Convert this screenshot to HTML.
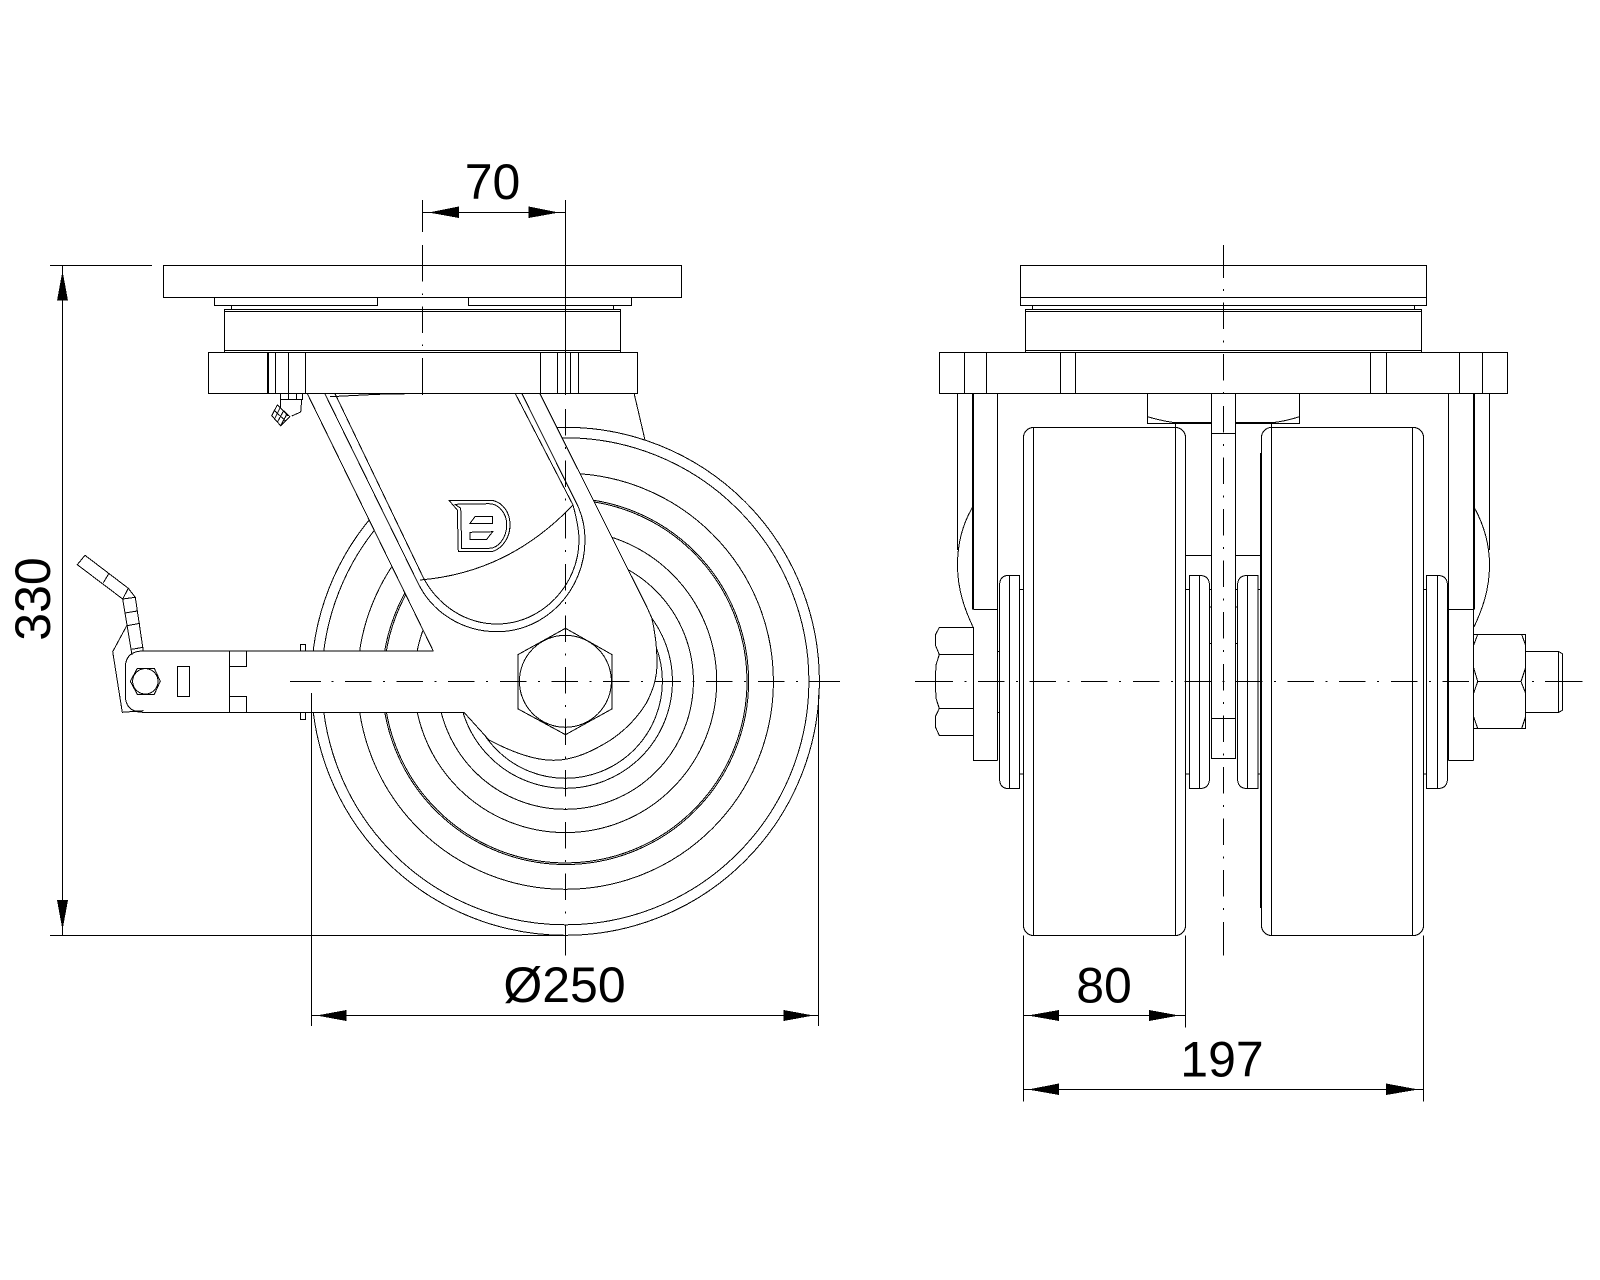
<!DOCTYPE html>
<html><head><meta charset="utf-8"><title>Swivel caster drawing</title>
<style>
html,body{margin:0;padding:0;background:#fff}
svg{display:block;shape-rendering:crispEdges}
text{font-family:"Liberation Sans",sans-serif;font-size:50px;fill:#000;text-anchor:middle}
.l{fill:none;stroke:#000;stroke-width:1}
.t{fill:none;stroke:#000;stroke-width:1}
.b{fill:none;stroke:#000;stroke-width:2}
.w{fill:#fff;stroke:none}
.a{fill:#000;stroke:none}
.c{fill:none;stroke:#000;stroke-width:1;stroke-dasharray:26.5 11.5 2 11.6}
.v{fill:none;stroke:#000;stroke-width:1;stroke-dasharray:26.5 11.5 2 11.6}
</style></head><body>
<svg xmlns="http://www.w3.org/2000/svg" width="1600" height="1280" viewBox="0 0 1600 1280">
<rect width="1600" height="1280" fill="#fff"/>

<!-- LEFT VIEW: wheel -->
<g class="l">
<circle cx="565.4" cy="681.3" r="254"/>
<circle cx="565.4" cy="681.3" r="243.5"/>
<circle cx="565.4" cy="681.3" r="208"/>
<circle cx="565.4" cy="681.3" r="183.2"/>
<circle cx="565.4" cy="681.3" r="181.6"/>
<circle cx="565.4" cy="681.3" r="151.3"/>
<circle cx="565.4" cy="681.3" r="128"/>
<circle cx="565.4" cy="681.3" r="107"/>
<circle cx="565.4" cy="681.3" r="97"/>
<path d="M634 393 L645 440"/>
</g>
<!-- fork fill + outline -->
<path class="w" d="M307 393 L539.6 393 L646.7 606.7 L651.8 618 L656 640 L657 663 L654 685 L646.4 703 L630 725 L610.7 740 L585 755 L553.6 760.3 L525 756 L505 749 L489 740 L464.3 712.7 L120 712.3 L120 651 L433.3 651 Z"/>
<path class="l" d="M307 393 L433.3 651"/>
<path class="l" d="M539.6 393 L646.7 606.7 L651.8 618 C655 632 657 648 657 663 C657 680 652 692 646.4 703 C636 720 624 731 610.7 740 C593 751 574 760.3 553.6 760.3 C532 760.3 508 750 489 740 L464.3 712.7"/>
<!-- fork U-lines -->
<path class="l" d="M324.5 393 L418 583 C432 612 462 631.7 497 631.7 C546 631.7 585 590 585 540 C585 527 582 515 577.7 505.7 L521.6 393"/>
<path class="l" d="M334.7 393 L423 577 C438 606 466 624 497 624 C542 624 579 585 579 540 C579 530 576 516 573 505 L515 393"/>
<path class="l" d="M420 580 C480 575 530 550 573 505"/>
<!-- logo -->
<path class="l" d="M449 500.3 L490 500.3 C498 500.3 510 508 510 525 C510 541 498 551.7 490 551.7 L458.3 551.7 L457.3 510 Z"/>
<path class="l" d="M455 504.3 L489.3 503.7 C498 504 506.7 512 506.7 525 C506.7 538 498 548.3 489.3 548.3 L461.7 548.3 L460.7 508.3 Z"/>
<path class="l" d="M470 523.3 L475 516.7 L492.7 516.7 L492.7 523.3 Z"/>
<path class="l" d="M470 532.3 L492.7 531.7 L486.7 539.3 L470 539.3 Z"/>
<!-- arm -->
<path class="l" d="M433.3 651 L143.3 651 Q125.3 651 125.3 668 L125.3 695 Q125.3 712.3 143.3 712.3 L464.3 712.3"/>
<path class="l" d="M229.3 651 V712.3 M229.3 666.3 H246.7 V651 M229.3 696.3 H246.7 V712.3"/>
<rect class="l" x="177.5" y="666.5" width="12" height="30"/>
<path class="l" d="M130.3 681.3 L137.3 668.3 L154.3 668.3 L160.3 681.3 L154.3 694.3 L137.3 694.3 Z"/>
<circle class="l" cx="145.3" cy="681.3" r="12.7"/>
<rect class="l" x="300.5" y="644.5" width="5" height="6.5"/>
<rect class="l" x="300.5" y="712.5" width="5" height="7"/>
<!-- lever -->
<path class="l" d="M85 555.3 L128.3 588.3 L135.3 597.3 L143.3 651"/>
<path class="l" d="M85 555.3 L77.3 564.7 L122.7 599 L132 655"/>
<path class="l" d="M109 573.3 L103.3 582.7 M122.7 599 L135.3 597.3 M128.3 588.3 L122.7 599 M125 613 L137.3 611 M127 625.7 L140 623.3 M131.7 649.3 L143.3 647.3"/>
<path class="l" d="M126.7 625.7 L112.7 651.7 L122.3 712.3 L143.3 710.7"/>
<!-- swivel head left -->
<g class="l">
<rect x="163.5" y="265.5" width="518" height="32"/>
<rect x="214.5" y="297.5" width="163" height="8"/>
<rect x="468.5" y="297.5" width="163" height="8"/>
<path d="M231.5 305.5 V309.5 M613.5 305.5 V309.5"/>
<rect x="224.5" y="309.5" width="396" height="43"/>
<path d="M224.5 311.5 H620.5 M224.5 350.5 H620.5"/>
<rect x="208.5" y="352.5" width="429" height="41"/>
<path d="M267.5 352.5 V393.5 M268.5 352.5 V393.5 M275.5 352.5 V393.5 M288.5 352.5 V393.5 M305.5 352.5 V393.5 M540.5 352.5 V393.5 M557.5 352.5 V393.5 M570.5 352.5 V393.5 M578.5 352.5 V393.5"/>
<path d="M330 396.7 L377.5 394.3 L407 393.7"/>
<!-- grease nipple -->
<path d="M280.5 393.5 V399.5 H302.5 V393.5 M288.5 393.5 V399.5 M296.5 393.5 V399.5 M280.7 399.5 V408 L288 416 M301.7 399.5 L300.7 412 L291.7 416"/>
<path d="M277.3 405 L290 416.7 L280.7 425.7 L271.7 415.7 Z M274.5 410.5 L285.5 421 M280 408 L274.5 419 M283.5 411 L277.5 422 M287 414 L281 425"/>
</g>
<!-- left centerlines -->
<path class="c" d="M293.4 681.5 H836"/>
<path class="l" d="M290 681.5 H321 M809.5 681.5 H840"/>
<path class="t" d="M422.5 200 V232 M422.5 245 V281.7 M422.5 293.5 V295 M422.5 306.7 V333 M422.5 344.5 V346 M422.5 358 V395"/>
<path class="t" d="M565.5 200 V395"/>
<path class="v" d="M565.5 409 V952"/>
<path class="l" d="M565.5 925 V955.5"/>
<path class="l" d="M565.5 628.3 L611.8 654.5 L611.8 709 L565.5 734.7 L518.2 709 L518.2 654.5 Z"/>
<circle class="l" cx="565.4" cy="681.3" r="46"/>

<!-- dims left -->
<path class="t" d="M422.5 212.5 H565.5"/>
<polygon class="a" points="428.6,212.5 459,206.5 459,218"/>
<polygon class="a" points="559,212.5 528.6,206.5 528.6,218"/>
<text x="492.5" y="199">70</text>
<path class="t" d="M50 265.5 H152 M62.5 265.5 V935.5 M50 935.5 H565"/>
<polygon class="a" points="62.5,270.7 57,300.7 68,300.7"/>
<polygon class="a" points="62.5,930 57,900 68,900"/>
<text transform="translate(50 599) rotate(-90)" x="0" y="0">330</text>
<path class="t" d="M311.5 693 V1026 M818.5 695 V1026 M311.5 1015.5 H818.5"/>
<polygon class="a" points="316.5,1015.5 346.5,1010 346.5,1021"/>
<polygon class="a" points="813.5,1015.5 783.5,1010 783.5,1021"/>
<text x="564.5" y="1002">&#216;250</text>

<!-- RIGHT VIEW -->
<g class="l">
<rect x="1020.5" y="265.5" width="406" height="40"/>
<path d="M1020.5 297.5 H1426.5"/>
<path d="M1032.5 305.5 V309.5 M1414.5 305.5 V309.5"/>
<rect x="1025.5" y="309.5" width="396" height="43"/>
<path d="M1025.5 311.5 H1421.5 M1025.5 350.5 H1421.5"/>
<rect x="939.5" y="352.5" width="568" height="41"/>
<path d="M964.5 352.5 V393.5 M986.5 352.5 V393.5 M1060.5 352.5 V393.5 M1075.5 352.5 V393.5 M1370.5 352.5 V393.5 M1386.5 352.5 V393.5 M1459.5 352.5 V393.5 M1482.5 352.5 V393.5"/>
<!-- fork sides -->
<path d="M957.5 393.5 V550 M997.5 393.5 V760.5 M973.5 609.5 H997.5 M973.5 627 V760.5 H997.5"/>
<path class="b" d="M973 393.5 V609.5"/>
<path d="M972.7 507 C962 525 957.5 545 957.5 565 C957.5 590 965 610 973 627"/>
<path d="M1489.5 393.5 V550 M1448.5 393.5 V760.5 M1448.5 609.5 H1473.5 M1448.5 760.5 H1473.5 M1473.5 609.5 V760.5"/>
<path class="b" d="M1474 393.5 V609.5"/>
<path d="M1474 507 C1484 525 1489.5 545 1489.5 565 C1489.5 590 1482 610 1474 627"/>
<!-- center block -->
<rect x="1147.5" y="393.5" width="152" height="30"/>
<path d="M1147.5 416.7 Q1165 422 1181 423.3 H1267 Q1283 422 1299.5 416.7"/>
<path class="b" d="M1175 423 H1211 M1236 423 H1273"/>
<!-- wheels -->
<rect x="1023.5" y="427.5" width="162" height="508" rx="10" class="w"/>
<rect x="1261.5" y="427.5" width="162" height="508" rx="10" class="w"/>
<rect x="1023.5" y="427.5" width="162" height="508" rx="10"/>
<rect x="1261.5" y="427.5" width="162" height="508" rx="10"/>
<path d="M1033.5 427.5 V935.5 M1175.5 424 V935.5 M1271.5 424 V935.5 M1412.5 427.5 V935.5"/>
<path d="M1260.5 453 V908"/>
<!-- center shaft -->
<path d="M1185.7 555.5 H1260.8"/>
<rect class="w" x="1211.5" y="393.5" width="24" height="365"/>
<rect x="1211.5" y="393.5" width="24" height="365"/>
<path d="M1211.5 433.5 H1235.5 M1211.5 718.5 H1235.5"/>
<!-- hubs -->
<path d="M1019.5 575.5 H1008 Q999.5 575.5 999.5 586 V778 Q999.5 788.5 1008 788.5 H1019.5 Z M1009.5 575.5 V788.5"/>
<path d="M1189.5 575.5 H1200 Q1209.5 575.5 1209.5 586 V778 Q1209.5 788.5 1200 788.5 H1189.5 Z M1199.5 575.5 V788.5"/>
<path d="M1258 575.5 H1247 Q1237.5 575.5 1237.5 586 V778 Q1237.5 788.5 1247 788.5 H1258 Z M1247.5 575.5 V788.5"/>
<path d="M1426.5 575.5 H1438 Q1447.5 575.5 1447.5 586 V778 Q1447.5 788.5 1438 788.5 H1426.5 Z M1437.5 575.5 V788.5"/>
<path d="M1019.5 589.5 H1023.5 M1019.5 774 H1023.5 M1185.7 589.5 H1189.5 M1185.7 774 H1189.5 M1258 589.5 H1261.5 M1258 774 H1261.5 M1423.5 589.5 H1426.5 M1423.5 774 H1426.5 M997.5 651.5 H999.5 M997.5 712.5 H999.5 M1209.5 607 H1211.5 M1209.5 643.5 H1211.5 M1235.5 607 H1237.5 M1235.5 643.5 H1237.5 M1209.5 589.5 H1211.5 M1235.5 589.5 H1237.5"/>
<!-- left nut -->
<path d="M973.5 627.5 H939.3 L935.3 635 V645 L939.3 654.5 L936 665 L935.3 681 L936 698.3 L939.3 708.5 L935.3 716.7 V726.7 L939.3 735.5 H973.5"/>
<path d="M973.5 654.5 H939.3 M973.5 708.5 H939.3"/>
<!-- right nut and bolt -->
<rect x="1473.5" y="634.5" width="52" height="94"/>
<path d="M1477.7 681.5 H1521 M1477.7 634.5 L1473.7 645 M1473.7 668 L1477.7 681.5 L1473.7 693 M1473.7 717 L1477.7 728.5 M1521.7 634.5 L1525.5 645 M1525.5 668 L1521 681.5 L1525.5 693 M1525.5 717 L1521.7 728.5"/>
<path d="M1525.5 651.5 H1558.7 V712.5 H1525.5 M1558.7 651.5 L1562.7 654 V710 L1558.7 712.5"/>
</g>
<!-- right centerlines -->
<path class="c" d="M926.4 681.5 H1469"/>
<path class="l" d="M915 681.5 H953 M1532 681.5 H1534 M1545 681.5 H1582.7"/>
<path class="v" d="M1223.5 251 V948"/>
<path class="l" d="M1223.5 245 V278 M1223.5 922 V955.7"/>

<!-- dims right -->
<path class="t" d="M1023.5 935.5 V1101.7 M1185.5 935.5 V1027.7 M1423.5 935.5 V1101.7 M1023.5 1015.5 H1185.5 M1023.5 1089.5 H1423.5"/>
<polygon class="a" points="1028,1015.5 1059,1010 1059,1021"/>
<polygon class="a" points="1179.3,1015.5 1149,1010 1149,1021"/>
<polygon class="a" points="1028,1089.5 1059,1083.5 1059,1095"/>
<polygon class="a" points="1418.3,1089.5 1386,1083.5 1386,1095"/>
<text x="1104" y="1002.5">80</text>
<text x="1222" y="1076.5">197</text>
</svg>
</body></html>
